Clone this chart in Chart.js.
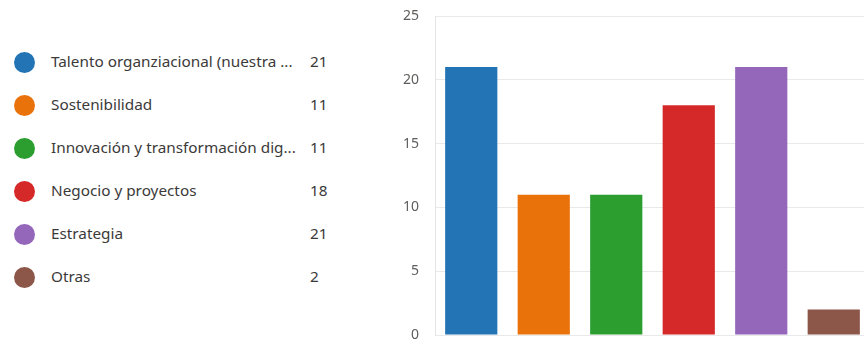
<!DOCTYPE html>
<html>
<head>
<meta charset="utf-8">
<script src="https://cdn.jsdelivr.net/npm/chart.js@4/dist/chart.umd.min.js"></script>
<style>
  html, body { margin: 0; padding: 0; background: #fff; overflow: hidden; width: 864px; height: 343px; }
  #legend { position: absolute; left: 0; top: 0; width: 360px; height: 343px; font-family: "Noto Sans", sans-serif; font-size: 15.3px; color: #3b3a39; }
  .item { position: absolute; left: 0; height: 24px; width: 340px; }
  .dot { position: absolute; left: 14px; top: 2px; width: 21px; height: 21px; border-radius: 50%; }
  .name { position: absolute; left: 51px; top: 1px; white-space: nowrap; }
  .val { position: absolute; left: 310px; top: 1px; }
  #wrap { position: absolute; left: 380px; top: 0; width: 490px; height: 343px; }
</style>
</head>
<body>
<div id="legend"></div>
<div id="wrap"><canvas id="c" width="490" height="343"></canvas></div>
<script>
// Survey answers per category
const categories = [
  "Talento organziacional (nuestra ...",
  "Sostenibilidad",
  "Innovación y transformación dig...",
  "Negocio y proyectos",
  "Estrategia",
  "Otras"
];
const counts = [21, 11, 11, 18, 21, 2];
const colors = ["#2274b4", "#ea720b", "#2c9e30", "#d52829", "#9467bb", "#8c5649"];
const yTicks = [0, 5, 10, 15, 20, 25];

// Legend list on the left
const legend = document.getElementById("legend");
categories.forEach((name, i) => {
  const row = document.createElement("div");
  row.className = "item";
  row.style.top = (50 + i * 42.9) + "px";
  row.innerHTML = '<span class="dot" style="background:' + colors[i] + '"></span>' +
    '<span class="name"></span><span class="val"></span>';
  row.querySelector(".name").textContent = name;
  row.querySelector(".val").textContent = counts[i];
  legend.appendChild(row);
});

new Chart(document.getElementById("c"), {
  type: "bar",
  data: {
    labels: categories,
    datasets: [{
      data: counts,
      backgroundColor: colors,
      borderWidth: 0,
      categoryPercentage: 1,
      barPercentage: 0.72
    }]
  },
  options: {
    responsive: false,
    animation: false,
    layout: { padding: { top: 16, bottom: 8, left: 0, right: 0 } },
    plugins: { legend: { display: false }, tooltip: { enabled: false } },
    scales: {
      x: { display: false },
      y: {
        min: 0,
        max: 25,
        afterBuildTicks: (s) => { s.ticks = yTicks.map(v => ({ value: v })); },
        afterFit: (s) => { s.width = 55; s.paddingTop = 0; s.paddingBottom = 0; },
        grid: { color: "#e9e9e9", drawTicks: false, lineWidth: 1 },
        border: { display: true, color: "#e4e4e4" },
        ticks: {
          padding: 16,
          color: "#605e5c",
          font: { family: "Noto Sans", size: 14 }
        }
      }
    }
  }
});
</script>
</body>
</html>
